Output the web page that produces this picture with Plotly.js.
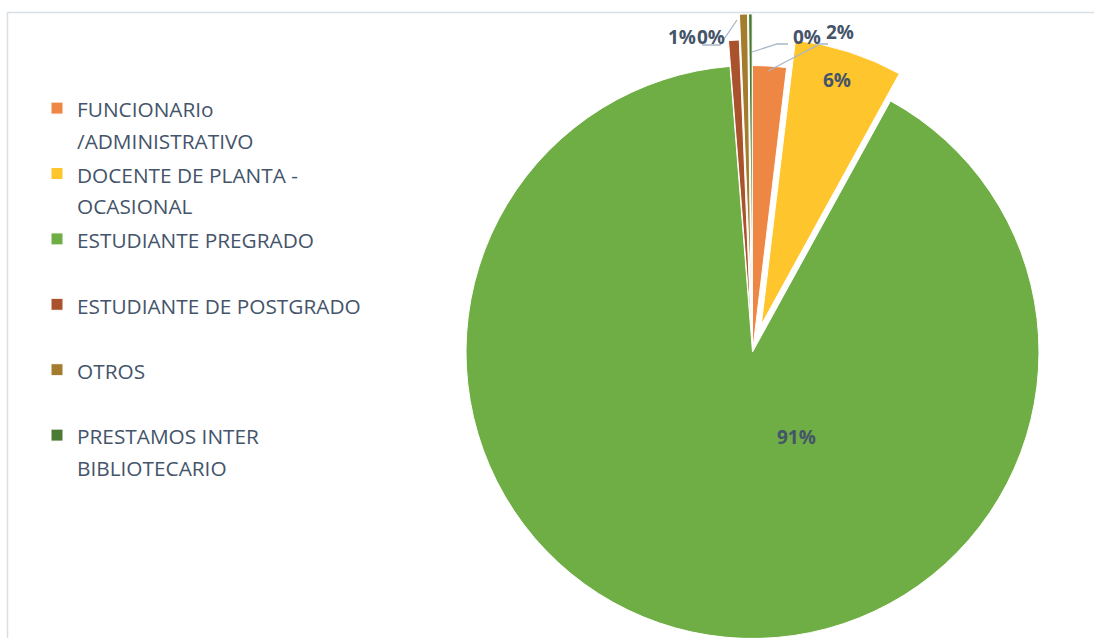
<!DOCTYPE html>
<html><head><meta charset="utf-8">
<script src="https://cdn.plot.ly/plotly-3.0.1.min.js"></script>
<style>html,body{margin:0;padding:0;overflow:hidden;background:#fff;width:1094px;height:638px}</style>
</head><body><div id="chart" style="width:1094px;height:700px"></div>
<script>
// ---- data ----
const categories = [
  'FUNCIONARIo<br>/ADMINISTRATIVO',
  'DOCENTE DE PLANTA -<br>OCASIONAL',
  'ESTUDIANTE PREGRADO',
  'ESTUDIANTE DE POSTGRADO',
  'OTROS',
  'PRESTAMOS INTER<br>BIBLIOTECARIO'
];
const shares = [1.9, 6.1, 90.75, 0.6, 0.45, 0.2];

// ---- style ----
const colors = ['#EF8744', '#FFC52C', '#6FAE45', '#A9522B', '#A47C2E', '#4A7A33'];
const pulls = [0, 0.1, 0, 0.09, 0.18, 0.18];
const labelPx = [[840, 32], [837, 80], [797, 437], [682, 37], [711, 37], [807, 37]];
const W = 1094, H = 700;
const TXT = '#44546A';

const px = x => x / W;
const py = y => 1 - y / H;

const total = shares.reduce((a, b) => a + b, 0);
const pctText = shares.map(v => Math.round(v / total * 100) + '%');

const legendLabels = categories.map(c => {
  const lines = c.split('<br>');
  if (lines.length === 1) lines.push('\u00a0');
  return lines.map(l => '<span style="font-size:20.8px">' + l + '</span>').join('<br>');
});

// pie geometry: centre (752.5, 352), radius 286.5
const cx = 752.5, cy = 352, r = 286.5, maxPull = Math.max(...pulls);
const half = r * (1 + maxPull);

const trace = {
  type: 'pie',
  labels: legendLabels,
  values: shares,
  sort: false,
  direction: 'clockwise',
  rotation: 0,
  pull: pulls,
  marker: { colors: colors, line: { color: '#ffffff', width: 1 } },
  textinfo: 'none',
  hoverinfo: 'label+percent',
  domain: { x: [px(cx - half), px(cx + half)], y: [py(cy + half), py(cy - half)] }
};

const annotations = pctText.map((t, i) => ({
  x: px(labelPx[i][0]), y: py(labelPx[i][1]), xref: 'paper', yref: 'paper',
  text: t, showarrow: false, xanchor: 'center', yanchor: 'middle',
  font: { family: 'Open Sans, sans-serif', size: 19, color: TXT, weight: 700 }
}));

function pathPx(pts) {
  return pts.map((p, i) => (i ? 'L' : 'M') + px(p[0]) + ',' + py(p[1])).join(' ');
}
const leaderColor = '#A9B7C8';
const shapes = [
  { type: 'path', xref: 'paper', yref: 'paper', path: pathPx([[788, 44], [777, 44], [752, 52]]), line: { color: leaderColor, width: 1.3 } },
  { type: 'path', xref: 'paper', yref: 'paper', path: pathPx([[828, 44], [820, 44], [768, 71]]), line: { color: leaderColor, width: 1.3 } },
  { type: 'path', xref: 'paper', yref: 'paper', path: pathPx([[702, 45], [720, 45], [737, 20]]), line: { color: leaderColor, width: 1.3 } },
  { type: 'line', xref: 'paper', yref: 'paper', x0: px(7), x1: px(1100), y0: py(12.5), y1: py(12.5), line: { color: '#D9DEE6', width: 1.5 }, layer: 'below' },
  { type: 'line', xref: 'paper', yref: 'paper', x0: px(7.5), x1: px(7.5), y0: py(12), y1: py(720), line: { color: '#D9DEE6', width: 1.5 }, layer: 'below' }
];

const layout = {
  width: W, height: H,
  margin: { l: 0, r: 0, t: 0, b: 0 },
  paper_bgcolor: '#ffffff',
  showlegend: true,
  legend: {
    x: px(37), y: py(86), xanchor: 'left', yanchor: 'top',
    valign: 'top', traceorder: 'normal',
    font: { family: 'Open Sans, sans-serif', size: 24, color: TXT },
    bgcolor: 'rgba(0,0,0,0)'
  },
  annotations: annotations,
  shapes: shapes
};

Plotly.newPlot('chart', [trace], layout, { displayModeBar: false, staticPlot: true });
</script>
</body></html>
